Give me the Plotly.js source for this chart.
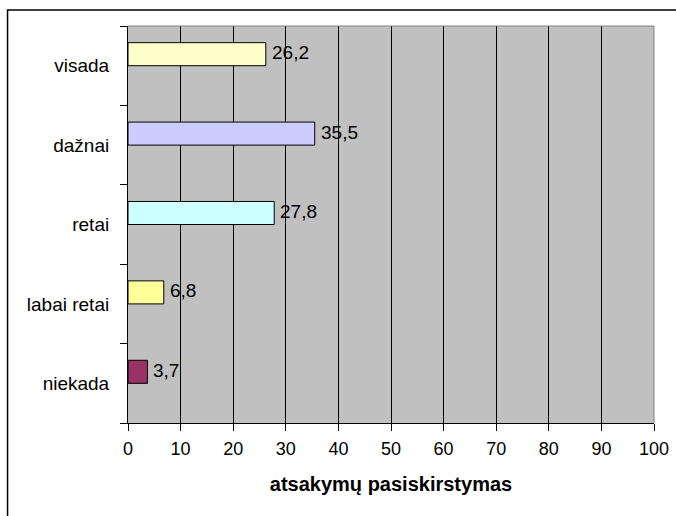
<!DOCTYPE html>
<html>
<head>
<meta charset="utf-8">
<script src="https://cdn.plot.ly/plotly-3.0.1.min.js"></script>
<style>html,body{margin:0;padding:0;background:#fff;}#chart{width:676px;height:516px;}</style>
</head>
<body>
<div id="chart"></div>
<script>
var categories = ['niekada', 'labai retai', 'retai', 'dažnai', 'visada'];
var values = [3.7, 6.8, 27.8, 35.5, 26.2];
var barColors = ['#993366', '#FFFF99', '#CCFFFF', '#CCCCFF', '#FFFFCC'];
var xTicks = [0, 10, 20, 30, 40, 50, 60, 70, 80, 90, 100];
var xTitle = 'atsakymų pasiskirstymas';

var FONT = 'Arial, "Liberation Sans", sans-serif';

var labels = values.map(function (v) { return v.toFixed(1).replace('.', ','); });

var trace = {
  type: 'bar',
  orientation: 'h',
  x: values,
  y: categories,
  width: 0.29,
  offset: 0,
  marker: { color: barColors, line: { color: '#000', width: 1 } },
  hoverinfo: 'none'
};

var annotations = values.map(function (v, i) {
  return {
    x: v, y: categories[i], xref: 'x', yref: 'y',
    text: labels[i], showarrow: false,
    xanchor: 'left', yanchor: 'middle',
    xshift: 4, yshift: 13,
    font: { family: FONT, size: 19, color: '#000' }
  };
});

var layout = {
  width: 676, height: 516,
  margin: { l: 128, r: 22, t: 26, b: 93 },
  paper_bgcolor: '#fff',
  plot_bgcolor: '#C0C0C0',
  showlegend: false,
  font: { family: FONT, size: 18, color: '#000' },
  xaxis: {
    range: [0, 100],
    tickvals: xTicks,
    ticktext: xTicks.map(String),
    showgrid: true, gridcolor: '#000', gridwidth: 1,
    zeroline: false,
    showline: true, linecolor: '#000', linewidth: 1,
    ticks: 'outside', ticklen: 7, tickcolor: '#000', tickwidth: 1,
    ticklabelstandoff: 2,
    tickfont: { family: FONT, size: 18, color: '#000' },
    title: { text: xTitle, font: { family: FONT, size: 20, color: '#000', weight: 'bold' }, standoff: 19 },
    fixedrange: true
  },
  yaxis: {
    type: 'category',
    categoryorder: 'array', categoryarray: categories,
    range: [-0.5, 4.5],
    showgrid: false, zeroline: false,
    showline: true, linecolor: '#000', linewidth: 1,
    ticks: 'outside', ticklen: 7, tickcolor: '#000', tickwidth: 1,
    tickson: 'boundaries',
    ticklabelstandoff: 14,
    tickfont: { family: FONT, size: 19, color: '#000' },
    fixedrange: true
  },
  annotations: annotations,
  shapes: [
    { type: 'line', xref: 'x domain', yref: 'y domain', x0: 0, x1: 1, y0: 1, y1: 1,
      line: { color: '#808080', width: 1 }, layer: 'above' },
    { type: 'line', xref: 'x domain', yref: 'y domain', x0: 1, x1: 1, y0: 0, y1: 1,
      line: { color: '#808080', width: 1 }, layer: 'above' },
    { type: 'rect', xref: 'paper', yref: 'paper',
      x0: -0.229, x1: 1.2, y0: -0.5, y1: 1.0403,
      line: { color: '#000', width: 1.5 }, fillcolor: 'rgba(0,0,0,0)', layer: 'above' }
  ]
};

Plotly.newPlot('chart', [trace], layout, { displayModeBar: false, staticPlot: true });
</script>
</body>
</html>
